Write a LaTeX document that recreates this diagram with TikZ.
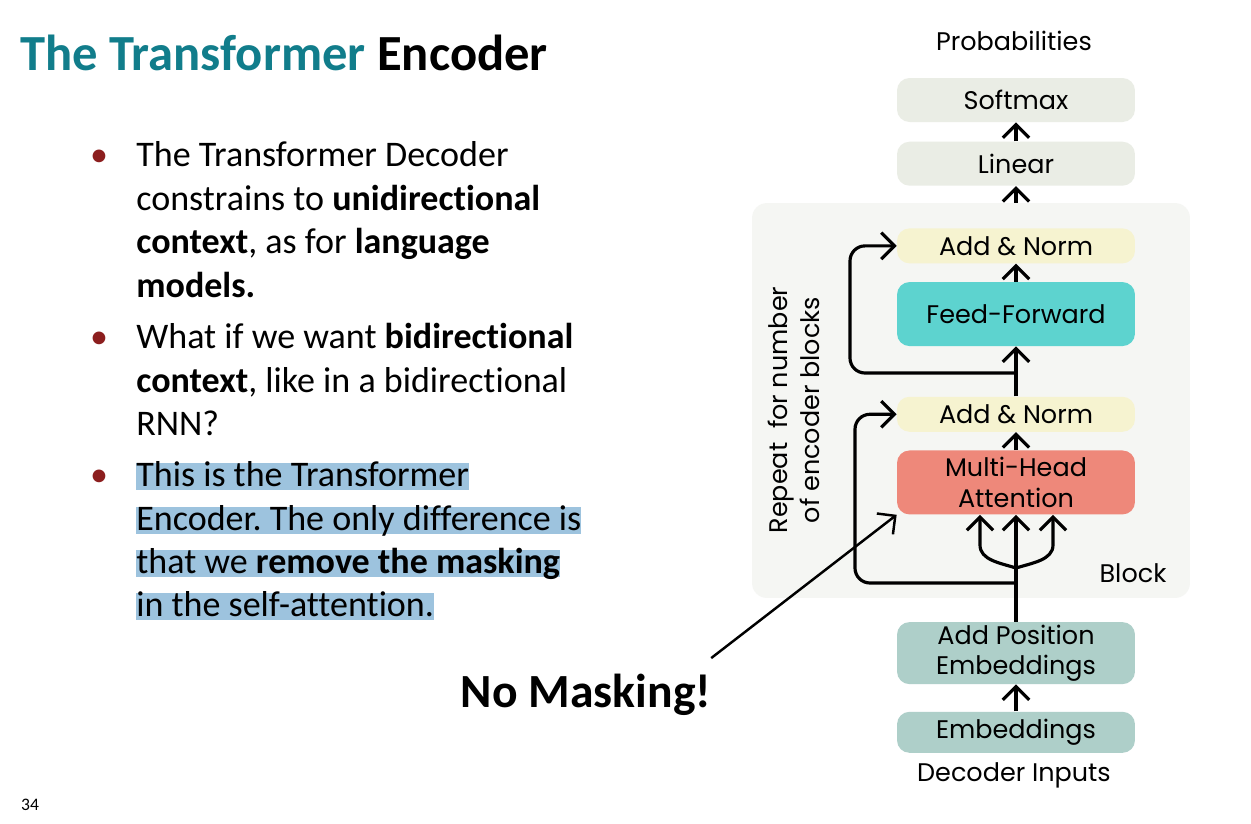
\documentclass[tikz,border=0pt]{standalone}
\usepackage{fontspec}
\setmainfont{Carlito}[Ligatures=NoCommon]
\newfontfamily\diafont{Poppins}
\frenchspacing
\usetikzlibrary{
        arrows.meta,
        positioning
    }
\definecolor{titleteal}{RGB}{17,125,139}
\definecolor{bulletred}{RGB}{140,30,30}
\definecolor{hlblue}{RGB}{157,195,222}
\definecolor{greybox}{RGB}{234,237,229}
\definecolor{blockbg}{RGB}{245,246,243}
\definecolor{normyellow}{RGB}{246,243,208}
\definecolor{ffteal}{RGB}{93,211,207}
\definecolor{mhasalmon}{RGB}{238,136,122}
\definecolor{embgreen}{RGB}{174,207,201}
\tikzset{>={Straight Barb[length=7.5pt,width=15pt]}}
\tikzset{
    layer/.style={rounded corners=0.25cm, minimum width=4.76cm, inner sep=0pt,
                  align=center, font=\diafont\fontsize{14.5}{17.5}\selectfont},
    dialabel/.style={inner sep=0pt, font=\diafont\fontsize{14.5}{18}\selectfont},
    conn/.style={->, line width=1.8pt},
    txtline/.style={anchor=base west, inner sep=0pt, font=\fontsize{20.5}{24}\selectfont},
    hlline/.style={txtline, fill=hlblue, text height=13pt, text depth=2.5pt},
    bul/.style={anchor=base, inner sep=0pt, text=bulletred, font=\fontsize{20.5}{24}\selectfont}
}

\begin{document}
\begin{tikzpicture}[x=0.02cm, y=-0.02cm]
    \useasboundingbox (0,0) rectangle (1251,823);
    \fill[white] (0,0) rectangle (1251,823);

    % slide text
    \node[txtline, font=\bfseries\fontsize{28.8}{34}\selectfont] (title) at (20,70)
        {\textcolor{titleteal}{The Transformer} Encoder};

    \node[bul] (b1) at (99,166) {\textbullet};
    \node[txtline] (l11) at (136,166) {The Transformer Decoder};
    \node[txtline] (l12) at (136,210) {constrains to \textbf{unidirectional}};
    \node[txtline] (l13) at (136,253) {\textbf{context}, as for \textbf{language}};
    \node[txtline] (l14) at (136,297) {\textbf{models.}};

    \node[bul] (b2) at (99,348) {\textbullet};
    \node[txtline] (l21) at (136,348) {What if we want \textbf{bidirectional}};
    \node[txtline] (l22) at (136,392) {\textbf{context}, like in a bidirectional};
    \node[txtline] (l23) at (136,435) {RNN?};

    \node[bul] (b3) at (99,486) {\textbullet};
    \node[hlline] (l31) at (136,486) {This is the Transformer\ };
    \node[hlline] (l32) at (136,530) {Encoder. The only difference is\ };
    \node[hlline] (l33) at (136,573) {that we \textbf{remove the masking}};
    \node[hlline] (l34) at (136,616) {in the self-attention.};

    \node[font=\bfseries\fontsize{27.1}{32}\selectfont] (nomask) at (586,695) {No Masking!};
    \node[font=\fontsize{10}{12}\selectfont] (page) at (30,805) {34};

    % encoder stack
    \node[rounded corners=0.3cm, fill=blockbg, minimum width=8.76cm, minimum height=7.9cm]
        (blk) at (971,400.5) {};
    \node[dialabel] (blklabel) at (1133,573) {Block};
    \node[dialabel, rotate=90, align=center] (repeat) at (794,410)
        {Repeat \ for number\\of encoder blocks};

    \node[dialabel] (prob) at (1014,41) {Probabilities};
    \node[layer, fill=greybox, minimum height=0.88cm] (softmax) at (1016,100) {Softmax};
    \node[layer, fill=greybox, minimum height=0.88cm, below=0.38cm of softmax] (linear) {Linear};
    \node[layer, fill=normyellow, minimum height=0.7cm, below=0.84cm of linear] (an2) {Add \& Norm};
    \node[layer, fill=ffteal, minimum height=1.28cm, below=0.36cm of an2] (ff) {Feed-Forward};
    \node[layer, fill=normyellow, minimum height=0.7cm, below=1.0cm of ff] (an1) {Add \& Norm};
    \node[layer, fill=mhasalmon, minimum height=1.28cm, below=0.36cm of an1] (mha) {Multi-Head\\Attention};
    \node[layer, fill=embgreen, minimum height=1.24cm, below=2.14cm of mha] (addpos) {Add Position\\Embeddings};
    \node[layer, fill=embgreen, minimum height=0.82cm, below=0.54cm of addpos] (emb) {Embeddings};
    \node[dialabel] (inputs) at (1014,775) {Decoder Inputs};

    \coordinate (res1) at (1016,583);
    \coordinate (res2) at (1016,373);
    \coordinate (fork) at (1016,568);
    \coordinate (fl) at (980,545);
    \coordinate (fr) at (1053,545);

    \draw[conn] (emb) -- (addpos);
    \draw[conn] (addpos) -- (mha);
    \draw[conn] (fork) .. controls (1000,563) and (980,560) .. (fl) -- (fl |- mha.south);
    \draw[conn] (fork) .. controls (1032,563) and (1053,560) .. (fr) -- (fr |- mha.south);
    \draw[conn] (mha) -- (an1);
    \draw[conn] (an1) -- (ff);
    \draw[conn] (ff) -- (an2);
    \draw[conn, rounded corners=0.3cm] (res1) -- (855,583) |- (an1.west);
    \draw[conn, rounded corners=0.3cm] (res2) -- (850,373) |- (an2.west);
    \draw[conn] (blk.north -| linear.south) -- (linear);
    \draw[conn] (linear) -- (softmax);

    \draw[conn, line width=1.4pt] ([xshift=-0.12cm, yshift=0.2cm]nomask.north east) -- (mha.south west);
\end{tikzpicture}
\end{document}
